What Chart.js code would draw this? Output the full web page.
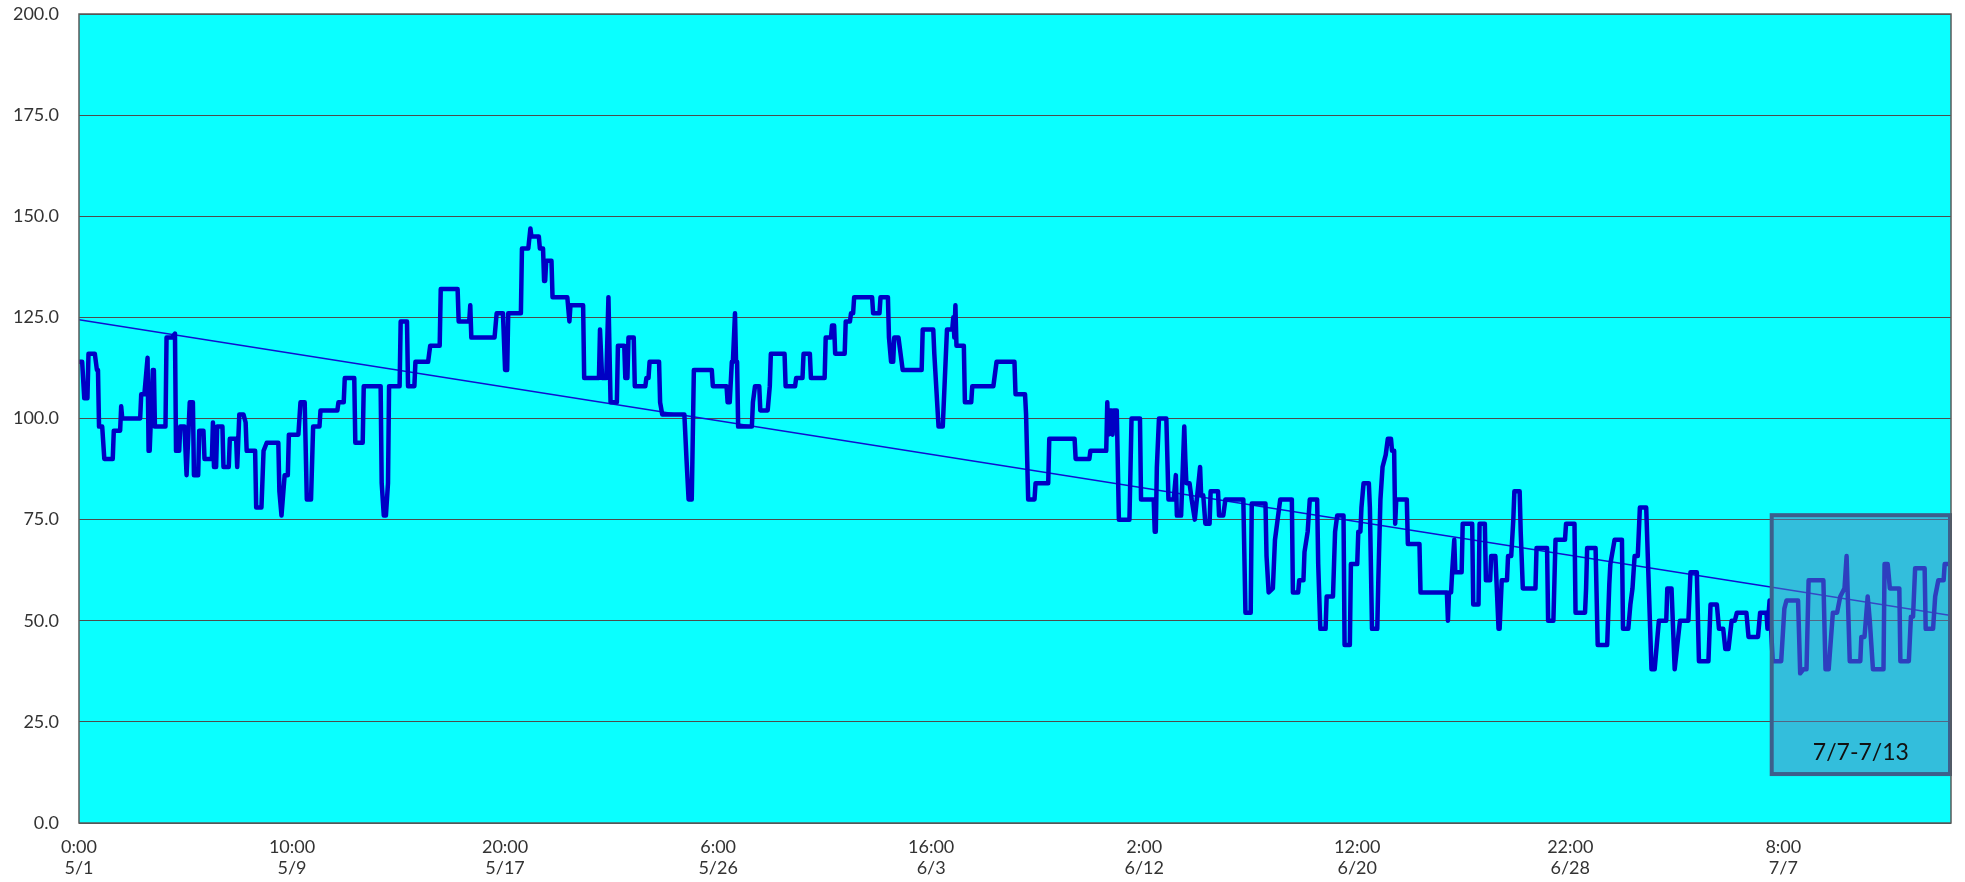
<!DOCTYPE html>
<html>
<head>
<meta charset="utf-8">
<script src="https://cdn.jsdelivr.net/npm/chart.js@4"></script>
<style>
  html, body { margin: 0; padding: 0; background: #ffffff; }
  #wrap { width: 1965px; height: 882px; }
</style>
</head>
<body>
<div id="wrap"><canvas id="c" width="1965" height="882"></canvas></div>
<script>
// ---- data (x = hours since 5/1 0:00) ----
const hours = [0,3,5,8,9,15,17,18,19,22,24,32,33,39,40,41,58,59,62,65,66,67,70,71,72,82,83,88,91,92,95,96,100,102,105,108,109,113,114,118,119,126,127,128,130,131,136,137,142,143,149,150,152,156,158,159,167,168,173,175,178,189,190,192,195,198,199,208,210,214,216,220,222,228,229,245,246,251,252,261,262,269,270,286,287,289,291,293,294,304,305,311,312,318,319,331,333,342,343,359,360,370,371,372,394,396,402,404,406,407,419,420,426,428,429,436,437,440,441,442,443,448,449,463,465,466,478,479,493,494,496,500,502,504,510,511,517,518,520,521,526,527,537,538,540,541,550,551,553,574,576,578,581,583,600,601,614,615,617,619,620,622,623,624,625,638,639,641,645,646,653,655,656,669,670,679,680,686,687,693,694,707,708,713,714,716,717,726,727,731,732,734,735,752,753,759,760,767,768,770,772,773,777,779,781,799,800,810,811,815,819,821,823,828,829,830,831,832,839,840,846,847,867,870,887,888,897,898,900,906,907,919,920,944,945,958,959,974,975,976,977,979,980,981,984,986,996,998,1006,1007,1019,1020,1021,1022,1024,1031,1033,1038,1040,1041,1045,1048,1049,1050,1053,1055,1058,1063,1064,1066,1068,1072,1073,1080,1081,1085,1087,1104,1106,1111,1112,1125,1126,1128,1132,1134,1136,1139,1150,1151,1156,1157,1161,1162,1165,1167,1174,1175,1177,1182,1183,1189,1190,1191,1193,1199,1200,1205,1206,1212,1213,1215,1216,1218,1223,1224,1226,1231,1232,1234,1236,1239,1241,1244,1245,1247,1248,1249,1259,1260,1271,1272,1297,1298,1299,1301,1302,1304,1305,1311,1312,1321,1322,1327,1328,1333,1334,1338,1339,1343,1346,1347,1349,1354,1355,1358,1360,1361,1366,1367,1369,1381,1382,1392,1393,1398,1399,1400,1409,1410,1418,1419,1428,1429,1430,1438,1440,1449,1451,1452,1456,1463,1464,1469,1471,1473,1475,1478,1480,1486,1491,1494,1496,1498,1505,1506,1510,1513,1518,1526,1528,1534,1536,1545,1547,1553,1555,1559,1561,1564,1567,1570,1572,1581,1583,1592,1594,1600,1601,1603,1606,1614,1617,1619,1630,1632,1635,1638,1640,1654,1656,1659,1663,1667,1670,1674,1676,1679,1689,1690,1693,1696,1698,1701,1711,1712,1715,1717,1726,1727,1735,1737,1739,1741,1750,1751,1758,1760,1763,1768,1769,1773];
const values = [114,114,105,105,116,116,112,112,98,98,90,90,97,97,103,100,100,106,106,115,92,92,112,112,98,98,120,120,121,92,92,98,98,86,104,104,86,86,97,97,90,90,99,88,88,98,98,88,88,95,95,88,101,101,99,92,92,78,78,92,94,94,82,76,86,86,96,96,104,104,80,80,98,98,102,102,104,104,110,110,94,94,108,108,84,76,76,84,108,108,124,124,108,108,114,114,118,118,132,132,124,124,128,120,120,126,126,112,112,126,126,142,142,147,145,145,142,142,134,134,139,139,130,130,124,128,128,110,110,122,110,110,130,104,104,118,118,110,110,120,120,108,108,110,110,114,114,104,101,101,90,80,80,112,112,108,108,104,104,114,114,126,114,114,98,98,104,108,108,102,102,108,116,116,108,108,110,110,116,116,110,110,120,120,123,123,116,116,124,124,126,126,130,130,126,126,130,130,120,114,114,120,120,116,112,112,122,122,116,98,98,110,122,122,125,120,128,118,118,104,104,108,108,114,114,106,106,101,80,80,84,84,95,95,90,90,92,92,104,96,102,102,96,102,102,75,75,100,100,80,80,72,72,88,100,100,80,80,86,76,76,98,90,84,84,80,75,88,81,81,74,74,82,82,76,76,80,80,52,52,79,79,66,57,58,70,74,80,80,57,57,60,60,67,72,80,80,64,48,48,56,56,64,72,76,76,44,44,64,64,72,72,78,84,84,78,48,48,60,80,88,91,95,95,92,92,74,80,80,69,69,57,57,50,57,57,62,70,62,62,74,74,54,54,74,74,60,60,66,66,48,48,60,60,66,66,75,82,82,72,58,58,68,68,50,50,60,70,70,74,74,52,52,58,68,68,44,44,59,64,70,70,48,48,54,58,66,66,78,78,38,38,44,50,50,58,58,38,50,50,62,62,40,40,54,54,48,48,43,43,50,50,52,52,46,46,52,52,48,55,40,40,53,55,55,37,38,38,60,60,38,38,52,52,56,58,66,40,40,46,46,56,50,38,38,64,64,58,58,40,40,51,51,63,63,48,48,56,60,60,64,64];

// linear trend line (endpoints)
const trendHours = [0, 1775];
const trendValues = [124.4, 51.3];

// x-axis tick labels (one every 202 hours)
const tickHours = [0, 202, 404, 606, 808, 1010, 1212, 1414, 1616];
const tickTimes = ["0:00", "10:00", "20:00", "6:00", "16:00", "2:00", "12:00", "22:00", "8:00"];
const tickDates = ["5/1", "5/9", "5/17", "5/26", "6/3", "6/12", "6/20", "6/28", "7/7"];

// highlighted period
const boxLabel = "7/7-7/13";
const boxRange = { xMin: 1605, xMax: 1775, yMin: 12.1, yMax: 76.1 };

const mainPoints = hours.map((h, i) => ({ x: h, y: values[i] }));
const trendPoints = trendHours.map((h, i) => ({ x: h, y: trendValues[i] }));

Chart.defaults.font.family = "Lato, 'Open Sans', 'DejaVu Sans', sans-serif";

const decor = {
  id: 'decor',
  beforeDraw(chart) {
    const { ctx, chartArea: a } = chart;
    ctx.save();
    ctx.fillStyle = '#0affff';
    ctx.fillRect(a.left, a.top, a.right - a.left, a.bottom - a.top);
    ctx.restore();
  },
  afterDatasetsDraw(chart) {
    const { ctx, scales: { x, y } } = chart;
    const l = x.getPixelForValue(boxRange.xMin);
    const r = x.getPixelForValue(boxRange.xMax) - 1;
    const t = y.getPixelForValue(boxRange.yMax);
    const b = y.getPixelForValue(boxRange.yMin);
    ctx.save();
    ctx.fillStyle = 'rgba(92,125,185,0.5)';
    ctx.fillRect(l, t, r - l, b - t);
    ctx.strokeStyle = '#3d5f8c';
    ctx.lineWidth = 4;
    ctx.strokeRect(l, t, r - l, b - t);
    ctx.fillStyle = '#111111';
    ctx.font = "23px Lato, 'Open Sans', sans-serif";
    ctx.textAlign = 'center';
    ctx.textBaseline = 'middle';
    ctx.fillText(boxLabel, (l + r) / 2, b - 21);
    ctx.restore();
  },
  afterDraw(chart) {
    const { ctx, chartArea: a } = chart;
    ctx.save();
    ctx.strokeStyle = '#5a5a5a';
    ctx.lineWidth = 1.5;
    ctx.strokeRect(a.left, a.top, a.right - a.left, a.bottom - a.top);
    ctx.restore();
  }
};

new Chart(document.getElementById('c'), {
  type: 'line',
  data: {
    datasets: [
      {
        data: mainPoints,
        borderColor: '#0000c4',
        borderWidth: 4.5,
        pointRadius: 0,
        tension: 0,
        borderJoinStyle: 'round',
        borderCapStyle: 'round',
        fill: false
      },
      {
        data: trendPoints,
        borderColor: '#1010d0',
        borderWidth: 1.5,
        pointRadius: 0,
        tension: 0,
        fill: false
      }
    ]
  },
  options: {
    responsive: false,
    animation: false,
    events: [],
    layout: { padding: { top: 14, right: 14, left: 0, bottom: 0 } },
    plugins: { legend: { display: false }, tooltip: { enabled: false } },
    scales: {
      x: {
        type: 'linear',
        min: 0,
        max: 1775,
        afterBuildTicks(scale) { scale.ticks = tickHours.map(v => ({ value: v })); },
        afterFit(scale) { scale.height = 59; scale.paddingLeft = 0; scale.paddingRight = 0; },
        grid: { display: false, drawTicks: false },
        border: { display: false },
        ticks: {
          autoSkip: false,
          maxRotation: 0,
          padding: 13,
          color: '#333333',
          font: { size: 18 },
          callback(value) {
            const i = tickHours.indexOf(value);
            return i >= 0 ? [tickTimes[i], tickDates[i]] : '';
          }
        }
      },
      y: {
        min: 0,
        max: 200,
        afterFit(scale) { scale.width = 79; scale.paddingTop = 0; scale.paddingBottom = 0; },
        grid: { color: '#4d4d4d', lineWidth: 1, drawTicks: false },
        border: { display: false },
        ticks: {
          stepSize: 25,
          padding: 20,
          color: '#333333',
          font: { size: 18 },
          callback: v => v.toFixed(1)
        }
      }
    }
  },
  plugins: [decor]
});
</script>
</body>
</html>
